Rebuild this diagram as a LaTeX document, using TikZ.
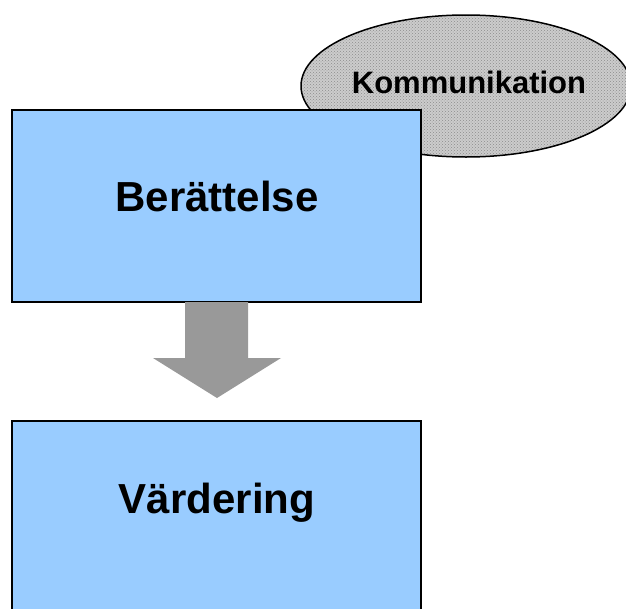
\documentclass[tikz,border=0pt]{standalone}
\usepackage{fontspec}
\setmainfont{Liberation Sans}
\usetikzlibrary{shapes.geometric,patterns}
\definecolor{boxblue}{HTML}{99CCFF}
\definecolor{arrowgrey}{HTML}{999999}
\tikzset{
  stage/.style={draw=black, line width=2pt, fill=boxblue, minimum width=409pt, inner sep=0pt},
  bigtext/.style={font=\fontsize{42}{48}\selectfont\bfseries},
  cloud/.style={ellipse, draw=black, line width=1.5pt, minimum width=330pt, minimum height=142pt, inner sep=0pt,
    preaction={fill=black!20}, pattern=crosshatch dots, pattern color=black!45}
}
\begin{document}
\begin{tikzpicture}[x=1pt,y=-1pt]
\useasboundingbox (0,0) rectangle (626,608);
\clip (0,0) rectangle (626,608);
% kommunikation bubble behind the first box
\node[cloud] (komm) at (466,86) {};
\node[font=\fontsize{31}{36}\selectfont\bfseries] (kommtext) at (469,82) {Kommunikation};
% boxes
\node[stage, minimum height=192pt] (ber) at (216.5,205.5) {};
\node[bigtext] (bertext) at (217,196) {Berättelse};
\node[stage, minimum height=240pt] (vard) at (216.5,541) {};
\node[bigtext] (vardtext) at (217,503) {Värdering};
% block arrow
\fill[arrowgrey] (185,302) -- (248,302) -- (248,358) -- (281,358) -- (217,398)
  -- (153,358) -- (185,358) -- cycle;
\end{tikzpicture}
\end{document}
